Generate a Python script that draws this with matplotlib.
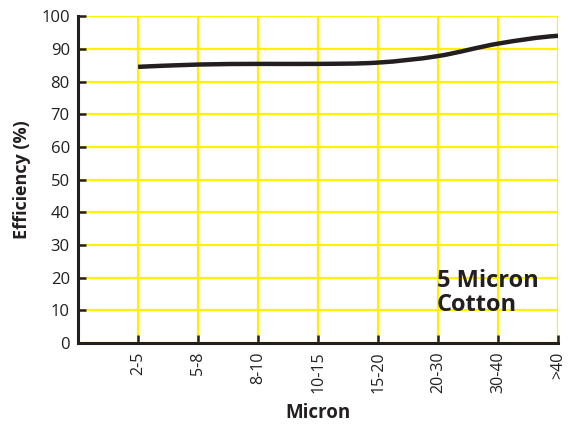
"""5 Micron Cotton filter efficiency chart."""

import matplotlib

matplotlib.use("Agg")
import matplotlib.pyplot as plt  # noqa: E402
from matplotlib.patches import PathPatch  # noqa: E402
from matplotlib.path import Path  # noqa: E402

categories = ["2-5", "5-8", "8-10", "10-15", "15-20", "20-30", "30-40", ">40"]
efficiency = [84.5, 85.2, 85.4, 85.4, 85.8, 87.8, 91.6, 94.0]
y_ticks = [0, 10, 20, 30, 40, 50, 60, 70, 80, 90, 100]

INK = "#231f20"
YELLOW = "#fff200"

plt.rcParams["font.family"] = ["Open Sans", "DejaVu Sans"]


def smooth_path(xs, ys):
    # Catmull-Rom -> cubic Bezier segments so the curve passes through every point
    verts = [(xs[0], ys[0])]
    codes = [Path.MOVETO]
    n = len(xs)
    for i in range(n - 1):
        x0, y0 = (xs[i - 1], ys[i - 1]) if i > 0 else (xs[i], ys[i])
        x1, y1 = xs[i], ys[i]
        x2, y2 = xs[i + 1], ys[i + 1]
        # flat tangent at the last point
        x3, y3 = (xs[i + 2], ys[i + 2]) if i + 2 < n else (x2 + 1, y2)
        verts += [
            (x1 + (x2 - x0) / 6, y1 + (y2 - y0) / 6),
            (x2 - (x3 - x1) / 6, y2 - (y3 - y1) / 6),
            (x2, y2),
        ]
        codes += [Path.CURVE4] * 3
    return Path(verts, codes)


fig = plt.figure(figsize=(5.7, 4.26), dpi=100)
ax = fig.add_axes([0.137, 0.195, 0.842, 0.767])

xs = list(range(1, len(categories) + 1))
ax.add_patch(PathPatch(smooth_path(xs, efficiency), facecolor="none",
                       edgecolor=INK, linewidth=3.2, capstyle="butt", zorder=5))

ax.set_xlim(0, len(categories))
ax.set_ylim(0, 100)
ax.set_xticks(xs)
ax.set_xticklabels(categories, rotation=90, fontsize=11.5, color=INK)
ax.set_yticks(y_ticks)
ax.set_yticklabels([str(v) for v in y_ticks], fontsize=12, color=INK)
ax.tick_params(direction="in", length=6, width=1.8, color=INK, pad=6)

ax.grid(True, color=YELLOW, linewidth=1.6)
ax.set_axisbelow(True)
for side in ("top", "right"):
    ax.spines[side].set_visible(False)
for side in ("left", "bottom"):
    ax.spines[side].set_linewidth(2.2)
    ax.spines[side].set_color(INK)

ax.set_xlabel("Micron", fontsize=13.5, fontweight="bold", color=INK, labelpad=7)
ax.set_ylabel("Efficiency (%)", fontsize=13, fontweight="bold", color=INK, labelpad=7)

ax.text(5.98, 22.5, "5 Micron\nCotton", fontsize=17, fontweight="bold", color=INK,
        ha="left", va="top", linespacing=1.0, zorder=6)

fig.savefig("out.png", dpi=100)
